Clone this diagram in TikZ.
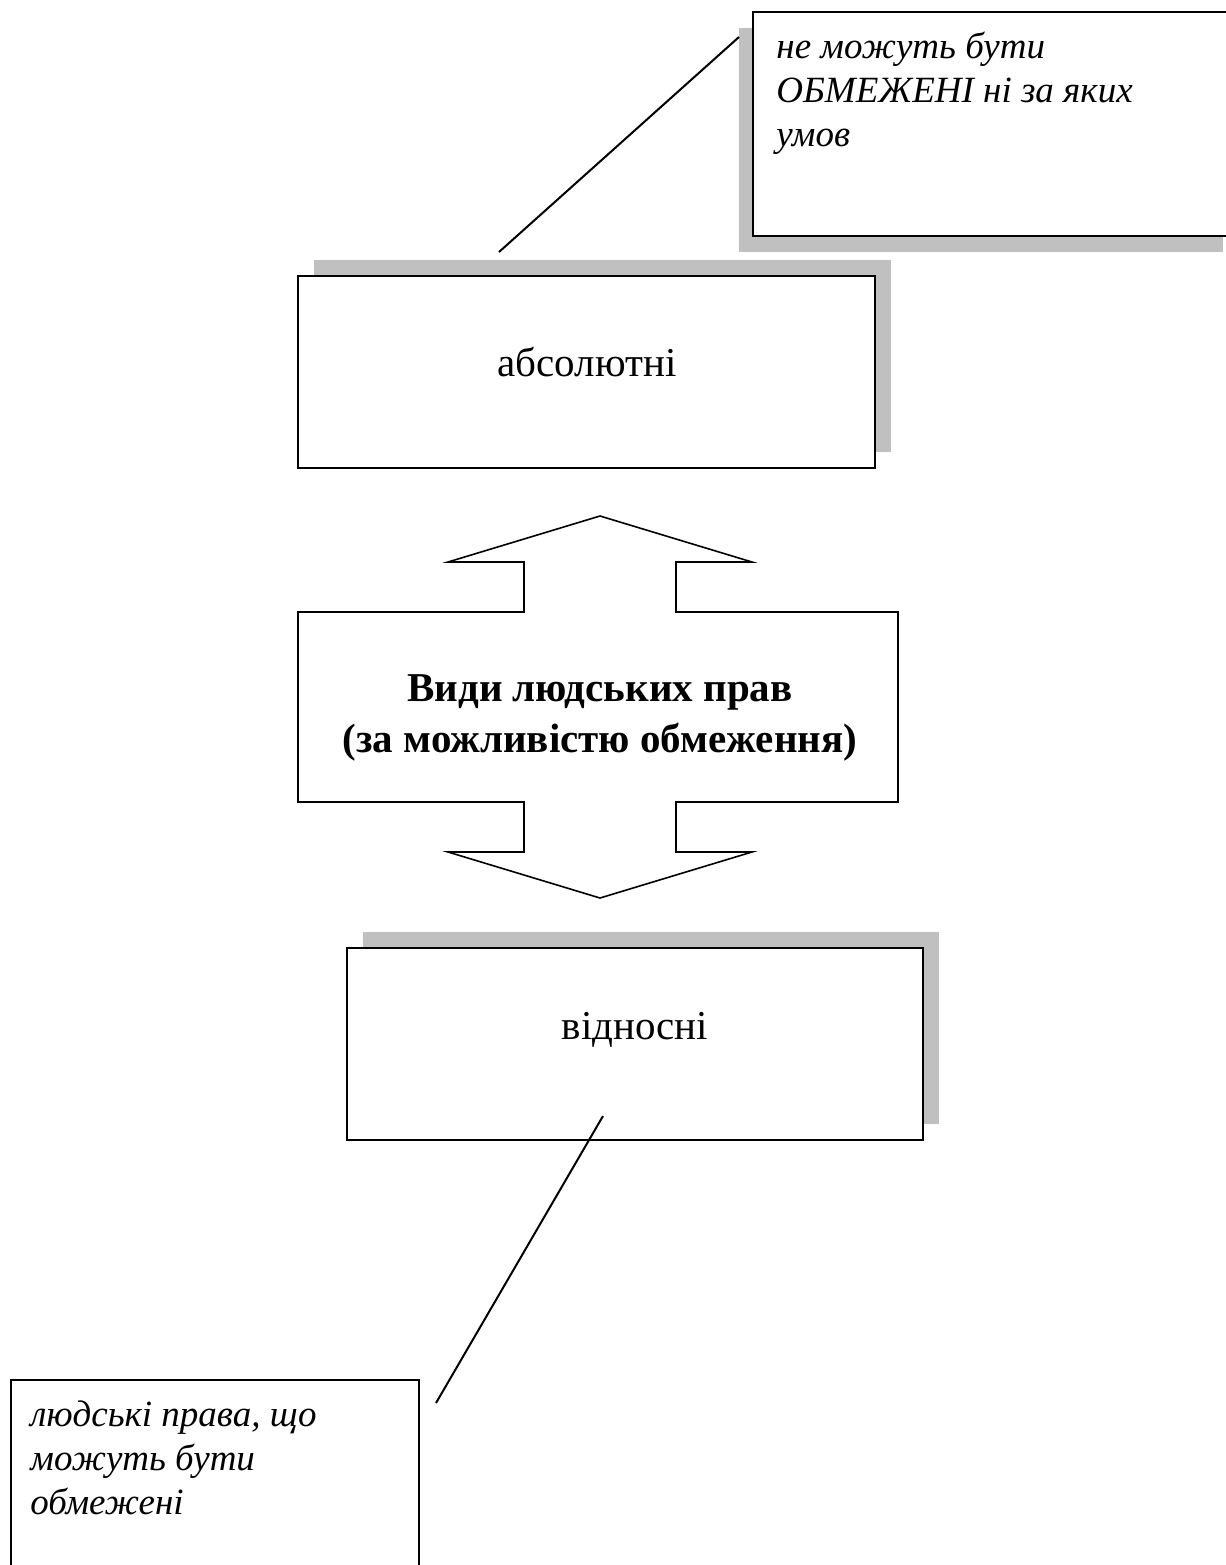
\documentclass[tikz,border=0pt]{standalone}
\usepackage{fontspec}
\setmainfont{Liberation Serif}
\usetikzlibrary{shadows}
\definecolor{shadowgray}{RGB}{192,192,192}
\begin{document}
\begin{tikzpicture}[x=0.5pt,y=-0.5pt,
  box/.style={draw, line width=1pt, fill=white, inner sep=0pt},
  shadowUR/.style={drop shadow={shadow xshift=8pt, shadow yshift=8pt, fill=shadowgray, opacity=1}},
  shadowDL/.style={drop shadow={shadow xshift=-7pt, shadow yshift=-8pt, fill=shadowgray, opacity=1}},
  plain/.style={font=\fontsize{20.5}{23}\selectfont, inner sep=0pt},
  note/.style={font=\fontsize{18.5}{22}\selectfont\itshape, inner sep=0pt, align=left, anchor=north west},
  title/.style={font=\fontsize{20.5}{25.5}\selectfont\bfseries, inner sep=0pt, align=center},
  conn/.style={line width=1pt},
  bigarrow/.style={draw, line width=0.8pt, fill=white}]
\useasboundingbox (0,0) rectangle (1226,1565);

% top callout
\node[box, shadowDL, minimum width=242pt, minimum height=112pt] (topcall) at (995,124) {};
\node[note] (toptext) at (776,32) {не можуть бути\\ОБМЕЖЕНІ ні за яких\\умов};

% absolutni box
\node[box, shadowUR, minimum width=288.5pt, minimum height=96pt] (abs) at (586.5,372) {};
\node[plain] (abstext) at (587,362) {абсолютні};

% connector top
\coordinate (c1a) at (499,252);
\coordinate (c1b) at (739,37);
\draw[conn] (c1a) -- (c1b);

% central double arrow
\draw[bigarrow] (600,516) -- (752,562) -- (676,562) -- (676,612) -- (898,612) -- (898,802)
  -- (676,802) -- (676,852) -- (752,852) -- (600,898) -- (448,852) -- (524,852) -- (524,802)
  -- (298,802) -- (298,612) -- (524,612) -- (524,562) -- (448,562) -- cycle;
\node[title] (center) at (600,718) {Види людських прав\\(за можливістю обмеження)};

% vidnosni box
\node[box, shadowUR, minimum width=288pt, minimum height=96pt] (vid) at (635,1044) {};
\node[plain] (vidtext) at (635,1030) {відносні};

% bottom callout
\node[box, minimum width=204pt, minimum height=110pt] (botcall) at (215,1490) {};
\node[note] (bottext) at (30,1400) {людські права, що\\можуть бути\\обмежені};

% connector bottom
\coordinate (c2a) at (603,1116);
\coordinate (c2b) at (436,1403);
\draw[conn] (c2a) -- (c2b);
\end{tikzpicture}
\end{document}
